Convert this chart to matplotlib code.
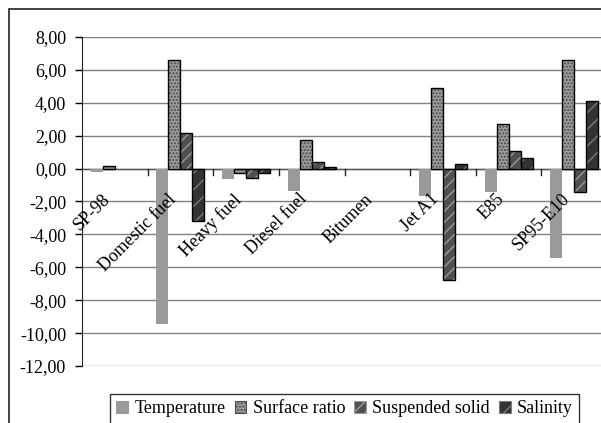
import matplotlib
matplotlib.use('Agg')
import numpy as np
import matplotlib.pyplot as plt
from matplotlib.patches import Rectangle, Patch
from matplotlib.transforms import ScaledTranslation

plt.rcParams['font.family'] = ['Liberation Serif', 'DejaVu Serif']
plt.rcParams['hatch.linewidth'] = 1.0

# data
fuels = ['SP-98', 'Domestic fuel', 'Heavy fuel', 'Diesel fuel', 'Bitumen',
         'Jet A1', 'E85', 'SP95-E10']
temperature = [-0.20, -9.45, -0.63, -1.35, 0.0, -1.64, -1.43, -5.42]
surface_ratio = [0.15, 6.60, -0.27, 1.76, 0.0, 4.93, 2.73, 6.60]
suspended_solid = [0.0, 2.15, -0.57, 0.38, 0.0, -6.75, 1.09, -1.41]
salinity = [0.0, -3.20, -0.27, 0.08, 0.0, 0.26, 0.63, 4.08]
series_names = ['Temperature', 'Surface ratio', 'Suspended solid', 'Salinity']
yticks = [8, 6, 4, 2, 0, -2, -4, -6, -8, -10, -12]
ytick_labels = ['8,00', '6,00', '4,00', '2,00', '0,00', '-2,00', '-4,00',
                '-6,00', '-8,00', '-10,00', '-12,00']

W, H = 601, 423
fig = plt.figure(figsize=(W / 100, H / 100), dpi=100)
ax = fig.add_axes([82 / W, 57 / H, (607 - 82) / W, (366 - 37) / H])

# (facecolor, hatch, hatchcolor, edge)
styles = [
    ('#9a9a9a', None, None, 'none'),
    ('#9c9c9c', '.....', '#4a4a4a', 'black'),
    ('#505050', '///', '#9a9a9a', 'black'),
    ('#333333', '//', '#7a7a7a', 'black'),
]
all_vals = [temperature, surface_ratio, suspended_solid, salinity]

x = np.arange(len(fuels))
bw = 12 / 65.6
handles = []
for k, (vals, (fc, hatch, hc, ec)) in enumerate(zip(all_vals, styles)):
    v = np.array(vals)
    keep = v != 0
    pos = (x + (k - 1.5) * bw)[keep]
    v = v[keep]
    ax.bar(pos, v, width=bw, color=fc, edgecolor='none', zorder=2)
    if hatch:
        ax.bar(pos, v, width=bw, fill=False, hatch=hatch, edgecolor=hc,
               linewidth=0, zorder=3)
    if ec != 'none':
        ax.bar(pos, v, width=bw, fill=False, edgecolor=ec, linewidth=1.0,
               zorder=4)
    handles.append(Patch(facecolor=fc, hatch=hatch,
                         edgecolor=hc if hatch else fc, linewidth=0.8))

ax.set_xlim(-0.5, len(fuels) - 0.5)
ax.set_ylim(-12, 8)
ax.set_yticks(yticks)
ax.set_yticklabels(ytick_labels, fontsize=13)
ax.tick_params(axis='y', direction='out', length=5, width=1, pad=6.5)
ax.set_xticks([])
ax.grid(axis='y', color='#808080', linewidth=1, zorder=0)
ax.set_axisbelow(True)
for s in ['top', 'right', 'bottom']:
    ax.spines[s].set_visible(False)
ax.spines['left'].set_color('#222222')
ax.axhline(0, color='#555555', linewidth=1, zorder=1)

# category boundary ticks below the zero line
for b in np.arange(0.5, len(fuels) - 0.5, 1.0):
    ax.plot([b, b], [0, -0.36], color='#222222', linewidth=1, zorder=1,
            clip_on=False)

off = ScaledTranslation(-13 / 100, -22 / 100, fig.dpi_scale_trans)
for i, name in enumerate(fuels):
    ax.text(i, 0, name, rotation=45, ha='right', va='top',
            rotation_mode='anchor', fontsize=13,
            transform=ax.transData + off, zorder=5)

leg = fig.legend(handles, series_names, loc='upper left',
                 bbox_to_anchor=(110 / W, 1 - 394 / H), ncol=4,
                 fontsize=13, frameon=True, fancybox=False,
                 handlelength=0.65, handleheight=0.65, handletextpad=0.35,
                 columnspacing=0.5, borderpad=0.35, borderaxespad=0)
leg.get_frame().set_edgecolor('black')
leg.get_frame().set_linewidth(1.0)

fig.patches.append(Rectangle((9 / W, -0.2), 1.2, 1.2 - 9 / H, fill=False,
                             edgecolor='#222222', linewidth=1.2,
                             transform=fig.transFigure, figure=fig))

fig.savefig('out.png', dpi=100)
